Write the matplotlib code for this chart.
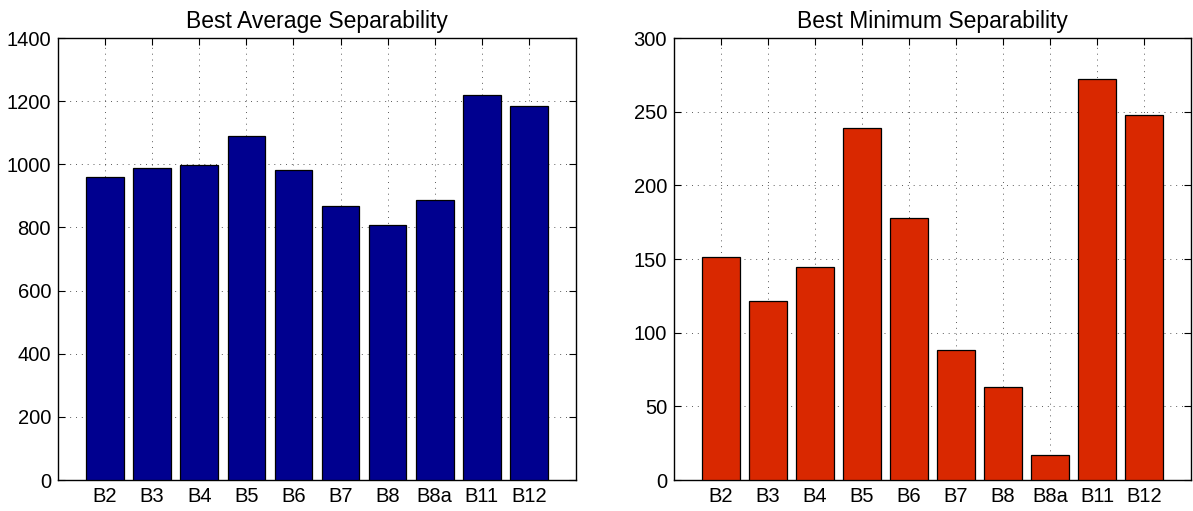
import matplotlib
matplotlib.use("Agg")
import matplotlib.pyplot as plt
import numpy as np

bands = ["B2", "B3", "B4", "B5", "B6", "B7", "B8", "B8a", "B11", "B12"]
avg_sep = [959, 987, 997, 1090, 981, 867, 808, 886, 1218, 1185]
min_sep = [151.5, 121.7, 144.6, 238.6, 177.5, 88.5, 62.9, 17.2, 272.5, 247.5]

plt.rcParams['font.family'] = ['Liberation Sans', 'DejaVu Sans']
plt.rcParams['font.size'] = 14.5

fig = plt.figure(figsize=(11.93, 5.11), dpi=100)
ax1 = fig.add_axes([58/1193, 31/511, 518/1193, 442/511])
ax2 = fig.add_axes([674/1193, 31/511, 517/1193, 442/511])

x = np.arange(1, len(bands) + 1)

def style(ax, title, ylim, yticks):
    ax.set_xlim(0, len(bands) + 1)
    ax.set_ylim(*ylim)
    ax.set_yticks(yticks)
    ax.set_xticks(x)
    ax.set_xticklabels(bands)
    ax.set_title(title, fontsize=16.5, pad=7)
    ax.grid(True, linestyle=(0, (1, 5)), color='#333333', linewidth=0.7, alpha=0.8)
    ax.set_axisbelow(True)
    ax.tick_params(direction='in', top=True, right=True, length=5, width=0.8, pad=5)
    for s in ax.spines.values():
        s.set_linewidth(1.0)

ax1.bar(x, avg_sep, width=0.8, color='#00008F', edgecolor='black', linewidth=0.9, zorder=3)
style(ax1, "Best Average Separability", (0, 1400), np.arange(0, 1401, 200))

ax2.bar(x, min_sep, width=0.8, color='#D92800', edgecolor='black', linewidth=0.9, zorder=3)
style(ax2, "Best Minimum Separability", (0, 300), np.arange(0, 301, 50))

fig.savefig("out.png", dpi=100)
